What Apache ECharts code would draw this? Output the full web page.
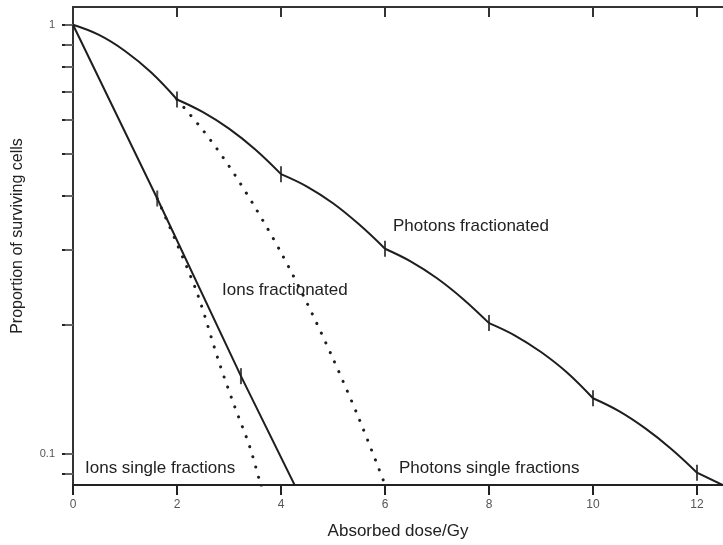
<!DOCTYPE html>
<html>
<head>
<meta charset="utf-8">
<script src="https://cdn.jsdelivr.net/npm/echarts@6/dist/echarts.min.js"></script>
<style>
  html, body { margin: 0; padding: 0; background: #fff; }
  #main { width: 723px; height: 545px; }
</style>
</head>
<body>
<div id="main"></div>
<script>
// dose in Gy, surviving fraction
var photonFracDose = [0, 0.5, 1, 1.5, 2, 2.5, 3, 3.5, 4, 4.5, 5, 5.5, 6, 6.5, 7, 7.5, 8, 8.5, 9, 9.5, 10, 10.5, 11, 11.5, 12, 12.5];
var photonFracSurv = [1, 0.947, 0.869, 0.775, 0.67, 0.626, 0.573, 0.513, 0.449, 0.42, 0.384, 0.343, 0.301, 0.281, 0.257, 0.23, 0.202, 0.189, 0.173, 0.155, 0.135, 0.126, 0.115, 0.103, 0.0906, 0.0847];
var photonSingleDose = [2, 2.5, 3, 3.5, 4, 4.5, 5, 5.5, 6, 6.1];
var photonSingleSurv = [0.67, 0.568, 0.469, 0.376, 0.295, 0.225, 0.167, 0.121, 0.085, 0.079];
var ionFracDose = [0, 1.62, 3.23, 4.3];
var ionFracSurv = [1, 0.394, 0.152, 0.083];
var ionSingleDose = [1.62, 2, 2.4, 2.8, 3.1, 3.4, 3.62, 3.66];
var ionSingleSurv = [0.394, 0.309, 0.235, 0.165, 0.13, 0.104, 0.084, 0.081];
// fraction marks on the curves
var photonMarkDose = [2, 4, 6, 8, 10, 12];
var photonMarkSurv = [0.67, 0.449, 0.301, 0.202, 0.135, 0.0906];
var ionMarkDose = [1.62, 3.23];
var ionMarkSurv = [0.394, 0.152];
var yTickValues = [0.09, 0.1, 0.2, 0.3, 0.4, 0.5, 0.6, 0.7, 0.8, 0.9, 1];
var yLabelValues = [0.1, 1];
var xTickValues = [0, 2, 4, 6, 8, 10, 12];

function pairs(xs, ys) {
  return xs.map(function (x, i) { return [x, ys[i]]; });
}

var chart = echarts.init(document.getElementById('main'));
var ink = '#1e1e1e';
var font = '"Liberation Sans", Arial, sans-serif';

// photon fractionated curve split at every fraction so the kinks stay sharp
var photonSegs = [];
var seg = [];
photonFracDose.forEach(function (d, i) {
  seg.push([d, photonFracSurv[i]]);
  if (i > 0 && d % 2 === 0) {
    photonSegs.push(seg);
    seg = [[d, photonFracSurv[i]]];
  }
});
if (seg.length > 1) photonSegs.push(seg);

var series = photonSegs.map(function (s) {
  return {
    type: 'line', data: s, smooth: 0.4, symbol: 'none', silent: true,
    lineStyle: { color: ink, width: 2 }
  };
});
series.push({
  type: 'line', data: pairs(photonSingleDose, photonSingleSurv), smooth: 0.3, symbol: 'none',
  lineStyle: { color: ink, width: 3, type: [0.1, 10.5], cap: 'round' }
});
series.push({
  type: 'line', data: pairs(ionFracDose, ionFracSurv), symbol: 'none',
  lineStyle: { color: ink, width: 2 }
});
series.push({
  type: 'line', data: pairs(ionSingleDose, ionSingleSurv), smooth: 0.3, symbol: 'none',
  lineStyle: { color: ink, width: 3, type: [0.1, 10.5], cap: 'round' }
});
series.push({
  type: 'scatter', data: pairs(photonMarkDose, photonMarkSurv).concat(pairs(ionMarkDose, ionMarkSurv)),
  symbol: 'rect', symbolSize: [2, 16], itemStyle: { color: ink }
});

var option = {
  animation: false,
  grid: { left: 73, top: 7, right: -5, bottom: 57 },
  xAxis: [{
    type: 'value', min: 0, max: 12.5, position: 'bottom',
    name: 'Absorbed dose/Gy', nameLocation: 'middle', nameGap: 38,
    nameTextStyle: { fontFamily: font, fontSize: 17, color: '#222' },
    axisLine: { lineStyle: { color: '#222', width: 2 } },
    axisTick: { customValues: xTickValues, length: 10, lineStyle: { color: '#222', width: 2 } },
    axisLabel: { customValues: xTickValues, margin: 14, fontFamily: font, fontSize: 12, color: '#555' },
    splitLine: { show: false }
  }, {
    type: 'value', min: 0, max: 12.5, position: 'top',
    axisLine: { lineStyle: { color: '#333', width: 2 } },
    axisTick: { customValues: xTickValues, inside: true, length: 10, lineStyle: { color: '#333', width: 2 } },
    axisLabel: { show: false },
    splitLine: { show: false }
  }],
  yAxis: [{
    type: 'log', min: 0.0848, max: 1.1, position: 'left',
    axisLine: { lineStyle: { color: '#222', width: 2 } },
    axisTick: { customValues: yTickValues, length: 11, lineStyle: { color: '#222', width: 2 } },
    axisLabel: {
      customValues: yLabelValues, margin: 18, fontFamily: font, fontSize: 11, color: '#555',
      formatter: function (v) { return String(+Number(v).toPrecision(3)); }
    },
    splitLine: { show: false }, minorTick: { show: false }
  }, {
    type: 'log', min: 0.0848, max: 1.1, position: 'right',
    axisLine: { lineStyle: { color: '#333', width: 2 } },
    axisTick: { customValues: yTickValues, inside: true, length: 8, lineStyle: { color: '#666', width: 2 } },
    axisLabel: { show: false },
    splitLine: { show: false }
  }],
  graphic: [
    {
      type: 'text', x: 18, y: 236, rotation: Math.PI / 2,
      style: { text: 'Proportion of surviving cells', font: '16px ' + font, fill: '#222', align: 'center', verticalAlign: 'middle' }
    },
    { type: 'text', left: 393, top: 218, style: { text: 'Photons fractionated', font: '17px ' + font, fill: '#222' } },
    { type: 'text', left: 222, top: 282, style: { text: 'Ions fractionated', font: '17px ' + font, fill: '#222' } },
    { type: 'text', left: 85, top: 460, style: { text: 'Ions single fractions', font: '17px ' + font, fill: '#222' } },
    { type: 'text', left: 399, top: 460, style: { text: 'Photons single fractions', font: '17px ' + font, fill: '#222' } }
  ],
  series: series
};
chart.setOption(option);
</script>
</body>
</html>
